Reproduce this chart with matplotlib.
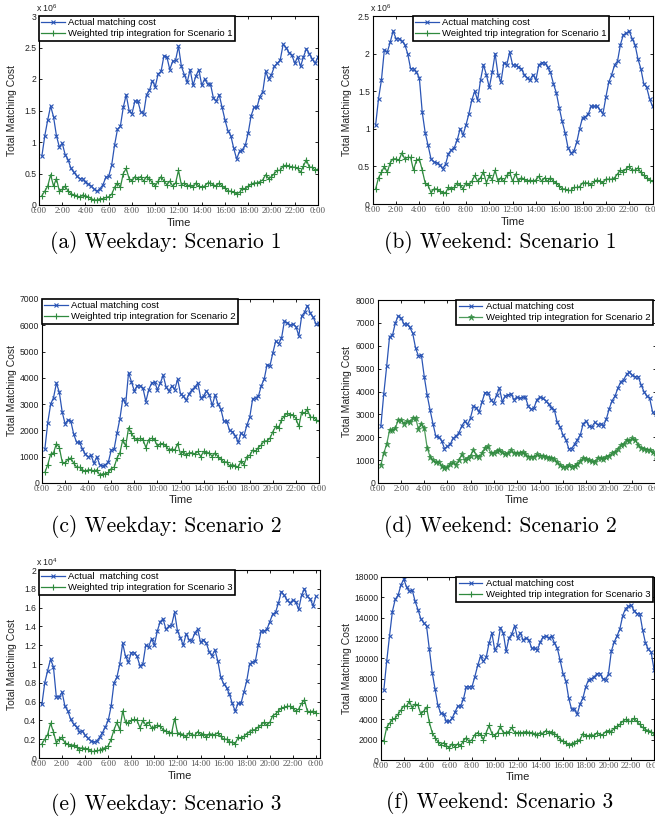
import numpy as np
import matplotlib
matplotlib.use("Agg")
import matplotlib.pyplot as plt
from matplotlib.ticker import FuncFormatter

plt.rcParams['font.family'] = ['Liberation Sans', 'DejaVu Sans']
plt.rcParams['mathtext.default'] = 'regular'

# one sample every 15 minutes, 0:15 .. 24:00
hours = np.arange(1, 97) * 0.25

# ── (a) weekday, scenario 1  (x 10^6) ─────────────────────────────
a_actual = [
    0.78, 1.10, 1.35, 1.57, 1.40, 1.10, 0.92, 0.98,
    0.80, 0.72, 0.58, 0.52, 0.46, 0.42, 0.42, 0.37,
    0.33, 0.30, 0.25, 0.22, 0.26, 0.32, 0.44, 0.46,
    0.63, 0.95, 1.20, 1.25, 1.55, 1.75, 1.50, 1.45,
    1.65, 1.65, 1.48, 1.45, 1.75, 1.82, 1.97, 1.88,
    2.08, 2.12, 2.37, 2.35, 2.15, 2.28, 2.30, 2.52,
    2.20, 2.07, 1.95, 2.15, 1.90, 2.05, 2.15, 1.90,
    2.00, 1.92, 1.92, 1.70, 1.65, 1.75, 1.55, 1.35,
    1.18, 1.10, 0.90, 0.73, 0.85, 0.88, 0.95, 1.15,
    1.42, 1.55, 1.55, 1.72, 1.80, 2.12, 2.00, 2.07,
    2.20, 2.25, 2.30, 2.55, 2.50, 2.42, 2.38, 2.25,
    2.35, 2.20, 2.35, 2.48, 2.40, 2.32, 2.25, 2.35,
]
a_weighted = [
    0.15, 0.22, 0.30, 0.48, 0.30, 0.42, 0.22, 0.25,
    0.30, 0.22, 0.18, 0.16, 0.15, 0.12, 0.16, 0.14,
    0.13, 0.10, 0.08, 0.08, 0.10, 0.10, 0.12, 0.13,
    0.17, 0.28, 0.35, 0.28, 0.50, 0.58, 0.42, 0.38,
    0.45, 0.42, 0.45, 0.38, 0.45, 0.42, 0.35, 0.30,
    0.38, 0.45, 0.38, 0.32, 0.38, 0.30, 0.35, 0.55,
    0.32, 0.35, 0.30, 0.32, 0.28, 0.35, 0.30, 0.28,
    0.30, 0.35, 0.35, 0.32, 0.30, 0.35, 0.30, 0.27,
    0.22, 0.22, 0.20, 0.18, 0.20, 0.27, 0.25, 0.30,
    0.33, 0.35, 0.35, 0.37, 0.40, 0.48, 0.42, 0.45,
    0.50, 0.55, 0.55, 0.62, 0.63, 0.62, 0.60, 0.60,
    0.58, 0.52, 0.62, 0.72, 0.60, 0.60, 0.55, 0.57,
]

# ── (b) weekend, scenario 1  (x 10^6) ─────────────────────────────
b_actual = [
    1.05, 1.40, 1.65, 2.05, 2.02, 2.15, 2.30, 2.20,
    2.20, 2.17, 2.12, 2.00, 1.80, 1.80, 1.75, 1.68,
    1.22, 0.95, 0.78, 0.60, 0.56, 0.55, 0.52, 0.47,
    0.53, 0.67, 0.72, 0.75, 0.85, 1.00, 0.92, 1.05,
    1.20, 1.38, 1.50, 1.38, 1.65, 1.85, 1.72, 1.55,
    1.75, 2.00, 1.72, 1.62, 1.88, 1.85, 2.02, 1.85,
    1.85, 1.82, 1.80, 1.72, 1.68, 1.65, 1.72, 1.65,
    1.85, 1.88, 1.88, 1.82, 1.75, 1.60, 1.48, 1.28,
    1.10, 0.95, 0.75, 0.68, 0.70, 0.82, 1.00, 1.15,
    1.16, 1.20, 1.30, 1.30, 1.30, 1.25, 1.20, 1.42,
    1.62, 1.72, 1.85, 1.90, 2.12, 2.25, 2.27, 2.30,
    2.20, 2.12, 1.93, 1.80, 1.60, 1.55, 1.40, 1.30,
]
b_weighted = [
    0.20, 0.35, 0.42, 0.50, 0.42, 0.55, 0.60, 0.60,
    0.58, 0.68, 0.60, 0.62, 0.62, 0.45, 0.58, 0.60,
    0.45, 0.28, 0.25, 0.15, 0.20, 0.20, 0.17, 0.15,
    0.15, 0.22, 0.20, 0.22, 0.28, 0.25, 0.20, 0.28,
    0.25, 0.30, 0.38, 0.30, 0.35, 0.43, 0.28, 0.38,
    0.32, 0.45, 0.30, 0.35, 0.30, 0.38, 0.42, 0.30,
    0.40, 0.30, 0.35, 0.33, 0.30, 0.32, 0.30, 0.32,
    0.37, 0.30, 0.35, 0.30, 0.35, 0.30, 0.28, 0.24,
    0.20, 0.20, 0.18, 0.18, 0.22, 0.22, 0.23, 0.28,
    0.28, 0.28, 0.25, 0.30, 0.32, 0.30, 0.28, 0.33,
    0.33, 0.33, 0.35, 0.40, 0.45, 0.43, 0.47, 0.50,
    0.45, 0.45, 0.48, 0.42, 0.38, 0.35, 0.32, 0.30,
]

# ── (c) weekday, scenario 2 ───────────────────────────────────────
c_actual = [
    1300, 2300, 3000, 3250, 3800, 3450, 2700, 2250,
    2400, 2350, 1850, 1550, 1550, 1300, 1100, 1000,
    1050, 750, 1000, 700, 650, 700, 800, 1250,
    1300, 1900, 2450, 3200, 3000, 4200, 3850, 3500,
    3700, 3700, 3600, 3100, 3550, 3800, 3850, 3550,
    3800, 4100, 3650, 3500, 3700, 3550, 3950, 3400,
    3300, 3150, 3400, 3550, 3650, 3800, 3250, 3300,
    3500, 3350, 2950, 3350, 3000, 2800, 2350, 2350,
    2000, 1950, 1800, 1550, 1900, 1800, 2200, 2500,
    3200, 3250, 3300, 3700, 3950, 4500, 4450, 4950,
    5400, 5300, 5500, 6150, 6100, 6000, 6050, 5950,
    5600, 6350, 6500, 6750, 6450, 6300, 6050, 6100,
]
c_weighted = [
    400, 700, 1100, 1150, 1500, 1350, 800, 750,
    900, 950, 750, 600, 600, 500, 450, 500,
    500, 450, 500, 300, 350, 350, 400, 550,
    600, 950, 1150, 1650, 1400, 2100, 1900, 1700,
    1650, 1700, 1650, 1350, 1650, 1700, 1650, 1400,
    1500, 1500, 1400, 1250, 1300, 1250, 1500, 1100,
    1200, 1050, 1150, 1150, 1100, 1200, 1000, 1200,
    1150, 1150, 1000, 1150, 1000, 900, 800, 800,
    650, 700, 650, 600, 850, 700, 1000, 1050,
    1250, 1200, 1350, 1450, 1600, 1600, 1700, 1950,
    2150, 2100, 2400, 2550, 2650, 2600, 2600, 2450,
    2150, 2700, 2650, 2800, 2500, 2500, 2400, 2350,
]

# ── (d) weekend, scenario 2 ───────────────────────────────────────
d_actual = [
    2500, 3900, 5100, 6400, 6450, 7000, 7300, 7200,
    6950, 6950, 6800, 6550, 5900, 5550, 5600, 4650,
    3850, 3200, 2600, 2050, 2000, 1850, 1500, 1600,
    1700, 1950, 2050, 2200, 2500, 2700, 2550, 2850,
    3350, 3300, 3100, 3550, 3950, 3950, 3650, 3500,
    3850, 4150, 3550, 3800, 3850, 3900, 3650, 3750,
    3700, 3750, 3750, 3350, 3220, 3300, 3650, 3750,
    3700, 3600, 3450, 3300, 3200, 2650, 2450, 2100,
    1900, 1500, 1500, 1700, 1900, 2100, 2600, 2700,
    2500, 2450, 2650, 2550, 2600, 2500, 2800, 3250,
    3600, 3800, 4150, 4430, 4520, 4750, 4850, 4700,
    4650, 4650, 4300, 4000, 3800, 3700, 3100, 3000,
]
d_weighted = [
    800, 1300, 1700, 2300, 2300, 2400, 2750, 2750,
    2600, 2700, 2650, 2850, 2850, 2350, 2600, 2400,
    1550, 1150, 1000, 900, 900, 750, 650, 700,
    850, 900, 800, 1000, 1250, 1000, 1100, 1200,
    1450, 1200, 1150, 1300, 1550, 1600, 1300, 1300,
    1400, 1450, 1350, 1250, 1300, 1450, 1300, 1300,
    1300, 1350, 1250, 1150, 1150, 1150, 1250, 1200,
    1200, 1150, 1100, 1100, 1050, 900, 800, 700,
    700, 800, 700, 750, 850, 950, 1100, 1050,
    1000, 950, 900, 1100, 1100, 1050, 1150, 1200,
    1300, 1350, 1500, 1650, 1700, 1900, 1850, 1950,
    1900, 1650, 1550, 1500, 1450, 1450, 1350, 1200,
]

# ── (e) weekday, scenario 3  (x 10^4) ─────────────────────────────
e_actual = [
    0.57, 0.80, 0.93, 1.05, 0.97, 0.65, 0.65, 0.70,
    0.55, 0.50, 0.41, 0.36, 0.33, 0.28, 0.29, 0.24,
    0.21, 0.18, 0.17, 0.18, 0.22, 0.27, 0.33, 0.40,
    0.55, 0.80, 0.86, 1.00, 1.22, 1.08, 1.02, 1.12,
    1.12, 1.08, 0.98, 1.00, 1.20, 1.18, 1.27, 1.20,
    1.35, 1.45, 1.48, 1.37, 1.40, 1.42, 1.55, 1.35,
    1.28, 1.20, 1.32, 1.26, 1.25, 1.33, 1.37, 1.23,
    1.26, 1.22, 1.13, 1.09, 1.15, 1.03, 0.86, 0.79,
    0.75, 0.68, 0.58, 0.50, 0.58, 0.58, 0.70, 0.82,
    1.00, 1.02, 1.03, 1.20, 1.35, 1.35, 1.37, 1.45,
    1.53, 1.55, 1.65, 1.77, 1.73, 1.68, 1.65, 1.68,
    1.66, 1.58, 1.73, 1.80, 1.72, 1.69, 1.62, 1.72,
]
e_weighted = [
    0.15, 0.20, 0.25, 0.37, 0.28, 0.16, 0.20, 0.22,
    0.16, 0.15, 0.13, 0.14, 0.12, 0.09, 0.11, 0.10,
    0.10, 0.07, 0.07, 0.08, 0.08, 0.10, 0.11, 0.13,
    0.20, 0.30, 0.38, 0.30, 0.50, 0.38, 0.37, 0.40,
    0.41, 0.40, 0.32, 0.40, 0.35, 0.38, 0.32, 0.33,
    0.35, 0.34, 0.30, 0.29, 0.27, 0.27, 0.42, 0.27,
    0.26, 0.25, 0.22, 0.27, 0.25, 0.24, 0.28, 0.25,
    0.26, 0.22, 0.26, 0.25, 0.25, 0.27, 0.23, 0.20,
    0.20, 0.17, 0.17, 0.15, 0.22, 0.21, 0.23, 0.26,
    0.28, 0.30, 0.30, 0.33, 0.35, 0.38, 0.35, 0.38,
    0.45, 0.47, 0.50, 0.53, 0.54, 0.55, 0.55, 0.53,
    0.50, 0.52, 0.58, 0.62, 0.50, 0.49, 0.50, 0.48,
]

# ── (f) weekend, scenario 3 ───────────────────────────────────────
f_actual = [
    6900, 9700, 12200, 14600, 15800, 16200, 17200, 17800,
    17000, 16600, 16700, 15600, 14800, 13900, 13500, 13200,
    10900, 8600, 7000, 5400, 4600, 4500, 3800, 3800,
    4100, 4700, 5300, 5300, 6000, 7200, 7200, 7200,
    8200, 9300, 10200, 9700, 10100, 11500, 12500, 10800,
    11300, 13000, 12500, 10700, 12000, 12400, 13200, 12000,
    12500, 11800, 12000, 11800, 11000, 11000, 10800, 11600,
    12100, 12200, 12000, 12200, 11500, 11000, 9800, 8500,
    7800, 6100, 5000, 5000, 4500, 5500, 6100, 7200,
    7900, 8000, 8200, 8500, 8500, 8000, 7900, 8500,
    10700, 11600, 12200, 12900, 14200, 14900, 15100, 15200,
    14700, 14400, 14400, 12800, 11500, 10900, 10600, 8900,
]
f_weighted = [
    1900, 3200, 3600, 4000, 4100, 4500, 4900, 5300,
    5300, 5800, 5100, 5500, 5400, 4500, 4800, 5200,
    3700, 2700, 2200, 1800, 1500, 1700, 1400, 1200,
    1600, 1300, 1600, 1400, 1900, 2200, 1800, 2000,
    2500, 2700, 2500, 2000, 2700, 3400, 2600, 2400,
    2700, 3300, 2700, 2700, 2800, 3200, 2700, 2700,
    2700, 2700, 2800, 2700, 2700, 2600, 2500, 2700,
    2600, 2900, 2700, 2800, 2600, 2400, 2000, 1900,
    1700, 1500, 1600, 1700, 1900, 2000, 2600, 2400,
    2400, 2500, 2400, 2700, 2500, 2500, 2800, 2900,
    2800, 3100, 3300, 3500, 3800, 4000, 3800, 3800,
    4100, 3800, 3500, 3200, 3000, 2900, 2800, 2500,
]

time_ticks = list(range(0, 25, 2))
time_labels = [f"{h % 24}:00" for h in time_ticks]

BLUE = "#2b55b5"
GREEN = "#2f8a3e"
W, H = 655, 819


def px_rect(left, top, right, bottom):
    return [left / W, 1 - bottom / H, (right - left) / W, (bottom - top) / H]


def draw_panel(ax, actual, weighted, ymax, ystep, scenario, leg_loc, leg_x,
               xmax=24, green_marker="+", actual_label="Actual matching cost",
               scale=None, ylab_x=-0.1):
    ax.plot(hours, actual, color=BLUE, lw=0.9, marker="x", ms=3.4, mew=0.8,
            label=actual_label)
    gkw = dict(marker=green_marker, ms=4.2, mew=0.8)
    if green_marker == "*":
        gkw = dict(marker="*", ms=4.8, mew=0.5, alpha=0.85)
    ax.plot(hours, weighted, color=GREEN, lw=0.9,
            label=f"Weighted trip integration for Scenario {scenario}", **gkw)

    ax.set_xlim(0, xmax)
    ax.set_ylim(0, ymax)
    ax.set_xticks(time_ticks)
    ax.set_xticklabels(time_labels, fontfamily="Liberation Serif", fontsize=6.5,
                       color="#555555")
    ax.set_yticks(np.arange(0, ymax + ystep / 2, ystep))
    ax.yaxis.set_major_formatter(FuncFormatter(lambda v, p: f"{v:g}"))
    ax.tick_params(axis="y", labelsize=6.2, labelcolor="#222222", pad=2)
    ax.tick_params(axis="x", pad=1.5)
    ax.tick_params(direction="in", length=2.5, width=0.6, top=True, right=True)
    for s in ax.spines.values():
        s.set_linewidth(0.8)

    ax.set_xlabel("Time", fontsize=8, color="#222222")
    ax.xaxis.label.set_verticalalignment("center")
    ax.xaxis.set_label_coords(0.5, -0.095)
    ax.set_ylabel("Total Matching Cost", fontsize=7.5, color="#222222")
    ax.yaxis.label.set_verticalalignment("center")
    ax.yaxis.set_label_coords(ylab_x, 0.5)

    if scale:
        ax.text(-0.01, 1.01, r"x 10$^{%d}$" % scale, transform=ax.transAxes,
                fontsize=6.3, color="#222222", ha="left", va="bottom")

    leg = ax.legend(loc=leg_loc, bbox_to_anchor=(leg_x, 1.0), borderaxespad=0,
                    fontsize=6.8, handlelength=2.5, handletextpad=0.35,
                    labelspacing=0.2, borderpad=0.25, numpoints=1,
                    fancybox=False, framealpha=1)
    leg.get_frame().set_edgecolor("black")
    leg.get_frame().set_linewidth(1.2)


fig = plt.figure(figsize=(W / 100, H / 100), dpi=100)

ax_a = fig.add_axes(px_rect(39, 16, 318, 205))
draw_panel(ax_a, a_actual, a_weighted, 3, 0.5, 1, "upper left", 0.0,
           scale=6, ylab_x=-0.097)
ax_b = fig.add_axes(px_rect(372.7, 16, 652.5, 204))
draw_panel(ax_b, b_actual, b_weighted, 2.5, 0.5, 1, "upper left", 0.144,
           scale=6, ylab_x=-0.092)
ax_c = fig.add_axes(px_rect(42, 299, 319, 483))
draw_panel(ax_c, c_actual, c_weighted, 7000, 1000, 2, "upper left", 0.0,
           ylab_x=-0.108)
ax_d = fig.add_axes(px_rect(378, 300, 655.5, 483))
draw_panel(ax_d, d_actual, d_weighted, 8000, 1000, 2, "upper right", 0.99,
           green_marker="*", ylab_x=-0.112)
ax_e = fig.add_axes(px_rect(39, 570, 320, 758))
draw_panel(ax_e, e_actual, e_weighted, 2, 0.2, 3, "upper left", 0.0,
           xmax=24.35, actual_label="Actual  matching cost", scale=4,
           ylab_x=-0.096)
ax_f = fig.add_axes(px_rect(381, 577, 654, 760))
draw_panel(ax_f, f_actual, f_weighted, 18000, 2000, 3, "upper right", 0.995,
           ylab_x=-0.125)

captions = [
    ("(a) Weekday: Scenario 1", 166, 243),
    ("(b) Weekend: Scenario 1", 500, 242),
    ("(c) Weekday: Scenario 2", 166, 527),
    ("(d) Weekend: Scenario 2", 500, 526),
    ("(e) Weekday: Scenario 3", 166, 805),
    ("(f) Weekend: Scenario 3", 500, 803),
]
for text, cx, cy in captions:
    fig.text(cx / W, 1 - cy / H, text, ha="center", va="center",
             fontfamily="cmr10", fontsize=15.5, color="black")

fig.savefig("out.png", dpi=100)
